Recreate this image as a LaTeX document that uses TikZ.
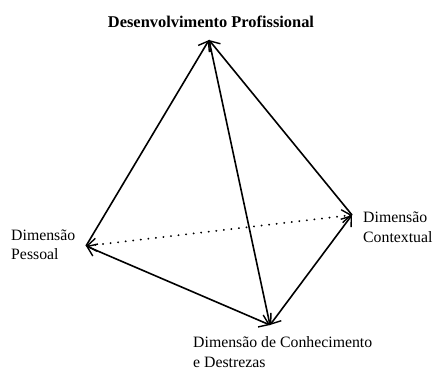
\documentclass[tikz,border=0pt]{standalone}
\usepackage{fontspec}
\setmainfont{Liberation Serif}
\usetikzlibrary{arrows.meta}
\begin{document}
\begin{tikzpicture}[x=1pt,y=-1pt,
  edge/.style={line width=1.6pt},
  vtip/.tip={Straight Barb[length=9pt,width=13pt,line width=1.4pt]},
  dots/.style={line width=2pt,line cap=round,dash pattern=on 0.1pt off 7.5pt},
  lbl/.style={inner sep=0pt,align=left,font=\fontsize{15.8}{19.5}\selectfont}]
\useasboundingbox (0,0) rectangle (435,371);
\fill[white] (0,0) rectangle (435,371);
\coordinate (T) at (209,40);
\coordinate (L) at (86,246);
\coordinate (R) at (352,215);
\coordinate (B) at (270,325);
\node[lbl,anchor=base,font=\bfseries\fontsize{16.4}{20}\selectfont] (tt) at (211,28) {Desenvolvimento Profissional};
\node[lbl,anchor=base west] (lt) at (11,259.5) {Dimensão\\Pessoal};
\node[lbl,anchor=base west] (rt) at (363,242) {Dimensão\\Contextual};
\node[lbl,anchor=base west] (bt) at (193,367) {Dimensão de Conhecimento\\e Destrezas};
\draw[edge,-vtip] (L) -- (T);
\draw[edge,-vtip] (R) -- (T);
\draw[edge] (T) -- (B);
\draw[edge,vtip-vtip] (L) -- (B);
\draw[edge,vtip-vtip] (B) -- (R);
\draw[dots,vtip-vtip] (L) -- (R);
\end{tikzpicture}
\end{document}
